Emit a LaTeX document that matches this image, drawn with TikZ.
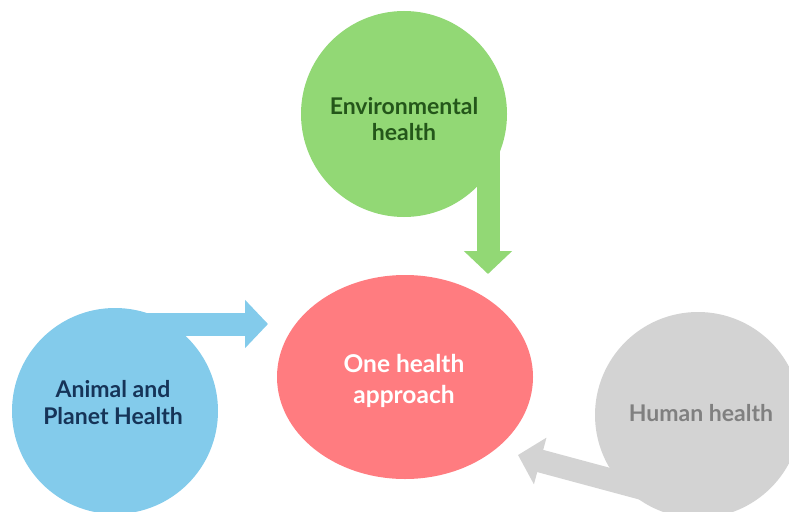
\documentclass[tikz,border=0pt]{standalone}
\usepackage{fontspec}
\setmainfont{Lato}
\usetikzlibrary{arrows.meta,shapes.geometric}

\definecolor{envgreen}{RGB}{146,216,117}
\definecolor{envtext}{RGB}{36,86,26}
\definecolor{anibl}{RGB}{131,203,235}
\definecolor{anitext}{RGB}{22,52,88}
\definecolor{corered}{RGB}{255,124,128}
\definecolor{humgray}{RGB}{211,211,211}
\definecolor{humtext}{RGB}{128,128,128}

\begin{document}
\begin{tikzpicture}[x=1pt,y=-1pt,
  blob/.style={circle,minimum size=206pt,inner sep=0pt,align=center,
    font=\bfseries\fontsize{23}{26}\selectfont},
  fat/.style={line width=23pt,-{Triangle[width=47pt,length=23pt]}}]

\useasboundingbox (0,0) rectangle (789,511);
\clip (0,0) rectangle (789,511);

% the three circles and the core
\node[blob,fill=envgreen] (env) at (404,114) {};
\node[align=center,text=envtext,font=\bfseries\fontsize{23}{26}\selectfont] (envlbl) at (404,119) {Environmental\\health};
\node[blob,fill=anibl] (ani) at (115,411) {};
\node[align=center,text=anitext,font=\bfseries\fontsize{23}{27}\selectfont] (anilbl) at (113,403) {Animal and\\Planet Health};
\node[blob,fill=humgray,text=humtext] (hum) at (698,415) {};
\node[text=humtext,font=\bfseries\fontsize{23}{26}\selectfont] (humlbl) at (701,413) {Human health};
\node[ellipse,minimum width=256pt,minimum height=204pt,inner sep=0pt,fill=corered] (core) at (405,377) {};
\node[align=center,text=white,font=\bfseries\fontsize{24.5}{31}\selectfont] (corelbl) at (404,381) {One health\\approach};

% arrows
\coordinate (envtip) at (488,274);
\coordinate (anitip) at (268,324);
\coordinate (humtip) at (518,455);

\draw[fat,color=envgreen] ([shift={(84,31)}]env.center) -- (envtip);
\draw[fat,color=anibl] ([shift={(25,-87)}]ani.center) -- (anitip);
\draw[fat,color=humgray] ([shift={(-35,79)}]hum.center) -- (humtip);

\end{tikzpicture}
\end{document}
